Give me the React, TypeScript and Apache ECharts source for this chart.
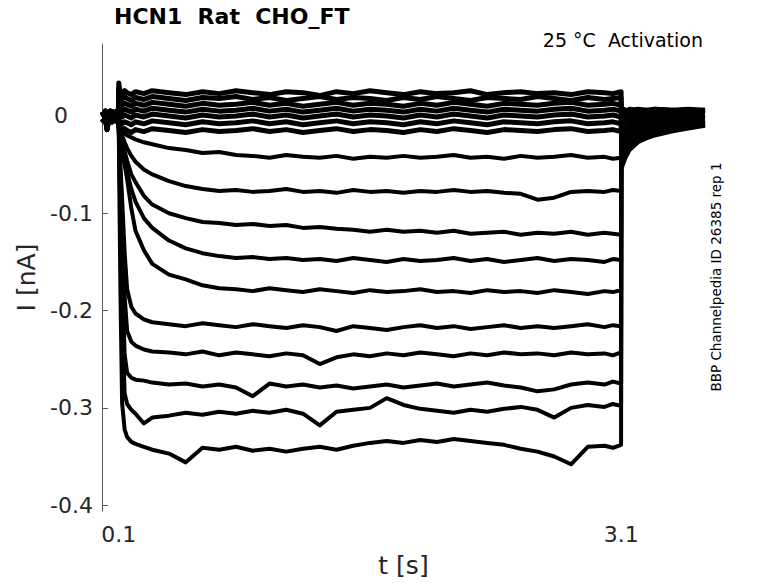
import React, { useEffect, useRef } from "react";
import * as echarts from "echarts";

// time grids (s)
const T_PRE = [0, 0.01, 0.02, 0.03, 0.04, 0.05, 0.06, 0.07, 0.08, 0.09, 0.099];
const T_STEP = [
  0.1, 0.105, 0.11, 0.12, 0.135, 0.15, 0.175, 0.2, 0.25, 0.3,
  0.4, 0.5, 0.6, 0.7, 0.8, 0.9, 1.0, 1.1, 1.2, 1.3, 1.4, 1.5, 1.6,
  1.7, 1.8, 1.9, 2.0, 2.1, 2.2, 2.3, 2.4, 2.5, 2.6, 2.7, 2.8, 2.9, 3.0,
  3.05, 3.099,
];
const T_TAIL = [3.1, 3.11, 3.125, 3.15, 3.2, 3.25, 3.3, 3.4, 3.5, 3.6];

// holding current before the step (nA)
const PRE_HI = [0.004, 0.001, 0.005, -0.008, 0.003, 0.005, 0.001, 0.004, 0.002, 0.005, 0.003];
const PRE_LO = [-0.003, -0.005, -0.002, -0.014, -0.004, -0.002, -0.006, -0.003, -0.005, -0.002, -0.004];

// currents during the step (nA)
const U1 = [0.034, 0.028, 0.025, 0.023, 0.026, 0.024, 0.022, 0.025, 0.023, 0.026,
  0.024, 0.022, 0.025, 0.023, 0.026, 0.024, 0.022, 0.025, 0.024, 0.021, 0.025, 0.023, 0.026,
  0.024, 0.022, 0.025, 0.023, 0.024, 0.026, 0.022, 0.024, 0.025, 0.023, 0.024, 0.022, 0.025, 0.024,
  0.023, 0.025];
const U2 = [0.028, 0.022, 0.019, 0.017, 0.020, 0.018, 0.016, 0.019, 0.017, 0.020,
  0.018, 0.016, 0.019, 0.018, 0.020, 0.017, 0.019, 0.016, 0.018, 0.020, 0.017, 0.019, 0.018,
  0.016, 0.019, 0.017, 0.020, 0.018, 0.016, 0.019, 0.018, 0.017, 0.020, 0.018, 0.016, 0.019, 0.017,
  0.018, 0.019];
const U3 = [0.020, 0.015, 0.013, 0.011, 0.013, 0.012, 0.010, 0.013, 0.011, 0.014,
  0.012, 0.010, 0.013, 0.011, 0.012, 0.014, 0.011, 0.013, 0.010, 0.012, 0.014, 0.011, 0.013,
  0.012, 0.010, 0.013, 0.011, 0.014, 0.012, 0.010, 0.013, 0.012, 0.011, 0.013, 0.014, 0.011, 0.012,
  0.013, 0.011];
const U4 = [0.012, 0.008, 0.007, 0.005, 0.007, 0.006, 0.004, 0.007, 0.005, 0.008,
  0.006, 0.004, 0.007, 0.005, 0.006, 0.008, 0.005, 0.007, 0.004, 0.006, 0.008, 0.005, 0.007,
  0.006, 0.004, 0.007, 0.005, 0.008, 0.006, 0.004, 0.007, 0.006, 0.005, 0.007, 0.008, 0.005, 0.006,
  0.007, 0.005];
const U5 = [0.004, 0.002, 0.001, -0.001, 0.001, 0.000, -0.002, 0.001, -0.001, 0.002,
  0.000, -0.002, 0.001, -0.001, 0.000, 0.002, -0.001, 0.001, -0.002, 0.000, 0.002, -0.001, 0.001,
  0.000, -0.002, 0.001, -0.001, 0.002, 0.000, -0.002, 0.001, 0.000, -0.001, 0.001, 0.002, -0.001, 0.000,
  0.001, -0.001];
const U6 = [-0.004, -0.005, -0.006, -0.008, -0.006, -0.007, -0.009, -0.006, -0.008, -0.005,
  -0.007, -0.009, -0.006, -0.008, -0.007, -0.005, -0.008, -0.006, -0.009, -0.007, -0.005, -0.008, -0.006,
  -0.007, -0.009, -0.006, -0.008, -0.005, -0.007, -0.009, -0.006, -0.007, -0.008, -0.006, -0.005, -0.008, -0.007,
  -0.006, -0.008];
const U7 = [-0.008, -0.010, -0.012, -0.014, -0.013, -0.015, -0.017, -0.014, -0.016, -0.013,
  -0.015, -0.017, -0.014, -0.016, -0.015, -0.013, -0.016, -0.014, -0.017, -0.015, -0.013, -0.016, -0.014,
  -0.015, -0.017, -0.014, -0.016, -0.013, -0.015, -0.017, -0.014, -0.015, -0.016, -0.014, -0.013, -0.016, -0.015,
  -0.014, -0.016];
const L1 = [-0.012, -0.013, -0.014, -0.016, -0.018, -0.020, -0.022, -0.024, -0.027, -0.029,
  -0.033, -0.035, -0.038, -0.037, -0.040, -0.041, -0.043, -0.040, -0.042, -0.043, -0.041, -0.044, -0.042,
  -0.043, -0.041, -0.043, -0.042, -0.040, -0.043, -0.042, -0.044, -0.041, -0.043, -0.042, -0.040, -0.043, -0.042,
  -0.044, -0.043];
const L2 = [-0.012, -0.014, -0.016, -0.020, -0.027, -0.033, -0.041, -0.047, -0.055, -0.060,
  -0.067, -0.072, -0.075, -0.077, -0.076, -0.078, -0.077, -0.075, -0.078, -0.077, -0.079, -0.076, -0.078,
  -0.077, -0.079, -0.077, -0.078, -0.076, -0.078, -0.077, -0.079, -0.080, -0.086, -0.084, -0.078, -0.077, -0.078,
  -0.076, -0.077];
const L3 = [-0.012, -0.015, -0.018, -0.025, -0.036, -0.046, -0.060, -0.068, -0.082, -0.091,
  -0.100, -0.105, -0.109, -0.110, -0.112, -0.111, -0.113, -0.112, -0.115, -0.114, -0.116, -0.117, -0.119,
  -0.117, -0.119, -0.118, -0.120, -0.118, -0.121, -0.120, -0.119, -0.122, -0.120, -0.121, -0.119, -0.122, -0.120,
  -0.121, -0.122];
const L4 = [-0.012, -0.016, -0.021, -0.030, -0.045, -0.058, -0.075, -0.088, -0.105, -0.115,
  -0.128, -0.136, -0.141, -0.144, -0.146, -0.145, -0.147, -0.146, -0.148, -0.147, -0.149, -0.146, -0.148,
  -0.150, -0.147, -0.149, -0.148, -0.146, -0.149, -0.147, -0.150, -0.148, -0.146, -0.149, -0.147, -0.148, -0.150,
  -0.147, -0.148];
const L5 = [-0.012, -0.018, -0.025, -0.038, -0.050, -0.065, -0.095, -0.118, -0.138, -0.152,
  -0.163, -0.168, -0.174, -0.177, -0.178, -0.180, -0.177, -0.179, -0.181, -0.178, -0.180, -0.182, -0.179,
  -0.181, -0.180, -0.178, -0.181, -0.180, -0.182, -0.179, -0.181, -0.180, -0.182, -0.179, -0.181, -0.183, -0.180,
  -0.181, -0.179];
const L6 = [-0.012, -0.030, -0.050, -0.085, -0.140, -0.178, -0.196, -0.203, -0.209, -0.212,
  -0.214, -0.216, -0.213, -0.215, -0.217, -0.214, -0.216, -0.218, -0.215, -0.217, -0.221, -0.216, -0.218,
  -0.220, -0.217, -0.215, -0.218, -0.216, -0.219, -0.217, -0.215, -0.218, -0.216, -0.218, -0.216, -0.214, -0.217,
  -0.215, -0.216];
const L7 = [-0.012, -0.040, -0.070, -0.120, -0.185, -0.221, -0.232, -0.236, -0.240, -0.242,
  -0.243, -0.245, -0.242, -0.246, -0.243, -0.245, -0.247, -0.244, -0.246, -0.255, -0.248, -0.245, -0.247,
  -0.244, -0.246, -0.243, -0.245, -0.247, -0.244, -0.246, -0.243, -0.245, -0.244, -0.246, -0.243, -0.245, -0.244,
  -0.246, -0.243];
const L8 = [-0.012, -0.050, -0.090, -0.160, -0.245, -0.264, -0.269, -0.271, -0.272, -0.274,
  -0.276, -0.275, -0.278, -0.276, -0.279, -0.288, -0.275, -0.278, -0.276, -0.279, -0.277, -0.280, -0.278,
  -0.276, -0.279, -0.277, -0.275, -0.278, -0.276, -0.274, -0.277, -0.279, -0.283, -0.281, -0.276, -0.274, -0.276,
  -0.273, -0.275];
const L9 = [-0.012, -0.060, -0.110, -0.200, -0.285, -0.296, -0.302, -0.306, -0.316, -0.310,
  -0.308, -0.305, -0.307, -0.304, -0.306, -0.303, -0.305, -0.302, -0.306, -0.318, -0.304, -0.302, -0.300,
  -0.290, -0.297, -0.301, -0.303, -0.305, -0.302, -0.304, -0.301, -0.299, -0.302, -0.310, -0.300, -0.297, -0.299,
  -0.296, -0.298];
const L10 = [-0.012, -0.100, -0.180, -0.295, -0.322, -0.330, -0.335, -0.337, -0.340, -0.343,
  -0.347, -0.356, -0.341, -0.343, -0.340, -0.344, -0.342, -0.345, -0.342, -0.340, -0.343, -0.339, -0.336,
  -0.334, -0.336, -0.333, -0.335, -0.332, -0.334, -0.336, -0.338, -0.342, -0.345, -0.350, -0.358, -0.340, -0.339,
  -0.341, -0.338];

// tail currents after the step (nA)
const TAIL_U1 = [0.006, 0.007, 0.006, 0.005, 0.007, 0.006, 0.007, 0.006, 0.007, 0.006];
const TAIL_U2 = [0.005, 0.006, 0.005, 0.007, 0.006, 0.005, 0.007, 0.006, 0.005, 0.006];
const TAIL_U3 = [0.004, 0.005, 0.004, 0.006, 0.005, 0.006, 0.004, 0.005, 0.006, 0.005];
const TAIL_U4 = [0.003, 0.004, 0.003, 0.005, 0.004, 0.003, 0.005, 0.004, 0.005, 0.003];
const TAIL_U5 = [0.001, 0.002, 0.001, 0.003, 0.002, 0.003, 0.002, 0.004, 0.003, 0.002];
const TAIL_U6 = [-0.001, 0.001, 0.000, 0.002, 0.001, 0.002, 0.003, 0.002, 0.003, 0.002];
const TAIL_U7 = [-0.004, -0.002, -0.003, -0.001, -0.002, 0.000, -0.001, 0.001, 0.000, 0.001];
const TAIL_L1 = [-0.010, -0.008, -0.007, -0.005, -0.004, -0.003, -0.002, -0.001, -0.001, 0.000];
const TAIL_L2 = [-0.016, -0.014, -0.011, -0.009, -0.006, -0.005, -0.004, -0.003, -0.002, -0.002];
const TAIL_L3 = [-0.022, -0.019, -0.016, -0.012, -0.009, -0.007, -0.006, -0.004, -0.004, -0.003];
const TAIL_L4 = [-0.028, -0.024, -0.020, -0.016, -0.012, -0.010, -0.008, -0.006, -0.005, -0.004];
const TAIL_L5 = [-0.034, -0.030, -0.025, -0.020, -0.015, -0.012, -0.010, -0.008, -0.007, -0.005];
const TAIL_L6 = [-0.040, -0.035, -0.029, -0.023, -0.018, -0.015, -0.012, -0.010, -0.008, -0.006];
const TAIL_L7 = [-0.044, -0.039, -0.033, -0.026, -0.020, -0.017, -0.014, -0.011, -0.009, -0.007];
const TAIL_L8 = [-0.048, -0.043, -0.036, -0.029, -0.022, -0.019, -0.016, -0.013, -0.011, -0.008];
const TAIL_L9 = [-0.052, -0.047, -0.040, -0.032, -0.025, -0.021, -0.018, -0.014, -0.012, -0.009];
const TAIL_L10 = [-0.055, -0.050, -0.043, -0.035, -0.027, -0.023, -0.020, -0.016, -0.013, -0.010];

// axis ticks
const X_TICKS = [0.1, 3.1];
const Y_TICKS = [-0.4, -0.3, -0.2, -0.1, 0];

const TRACES = [
  { pre: PRE_HI, step: U1, tail: TAIL_U1, upper: true },
  { pre: PRE_LO, step: U2, tail: TAIL_U2, upper: true },
  { pre: PRE_HI, step: U3, tail: TAIL_U3, upper: true },
  { pre: PRE_LO, step: U4, tail: TAIL_U4, upper: true },
  { pre: PRE_HI, step: U5, tail: TAIL_U5, upper: true },
  { pre: PRE_LO, step: U6, tail: TAIL_U6, upper: true },
  { pre: PRE_HI, step: U7, tail: TAIL_U7, upper: true },
  { pre: PRE_LO, step: L1, tail: TAIL_L1, upper: false },
  { pre: PRE_HI, step: L2, tail: TAIL_L2, upper: false },
  { pre: PRE_LO, step: L3, tail: TAIL_L3, upper: false },
  { pre: PRE_HI, step: L4, tail: TAIL_L4, upper: false },
  { pre: PRE_LO, step: L5, tail: TAIL_L5, upper: false },
  { pre: PRE_HI, step: L6, tail: TAIL_L6, upper: false },
  { pre: PRE_LO, step: L7, tail: TAIL_L7, upper: false },
  { pre: PRE_HI, step: L8, tail: TAIL_L8, upper: false },
  { pre: PRE_LO, step: L9, tail: TAIL_L9, upper: false },
  { pre: PRE_HI, step: L10, tail: TAIL_L10, upper: false },
];

const FONT = "DejaVu Sans";
const AXIS_GRAY = "#5a5a5a";
const TEXT = "#262626";

export default function App() {
  const ref = useRef<HTMLDivElement>(null);

  useEffect(() => {
    if (!ref.current) return;
    const chart = echarts.init(ref.current, null, { renderer: "svg" });

    const zip = (ts: number[], vs: number[]) => {
      const n = Math.min(ts.length, vs.length);
      const out: number[][] = [];
      for (let i = 0; i < n; i++) out.push([ts[i], vs[i]]);
      return out;
    };

    const series = TRACES.map((tr) => ({
      type: "line",
      data: [...zip(T_PRE, tr.pre), ...zip(T_STEP, tr.step), ...zip(T_TAIL, tr.tail)],
      showSymbol: false,
      symbol: "none",
      silent: true,
      lineStyle: { color: "#000000", width: tr.upper ? 5 : 4, join: "round" },
    }));

    chart.setOption({
      animation: false,
      title: {
        text: "HCN1  Rat  CHO_FT",
        left: 114,
        top: 5,
        padding: 0,
        textStyle: { fontFamily: FONT, fontWeight: "bold", fontSize: 22, color: "#000" },
      },
      grid: { left: 102, right: 73, top: 44, bottom: 71, containLabel: false },
      xAxis: {
        type: "value",
        min: 0,
        max: 3.6,
        name: "t [s]",
        nameLocation: "middle",
        nameGap: 42,
        nameTextStyle: { fontFamily: FONT, fontSize: 25, color: TEXT },
        axisLine: { show: true, lineStyle: { color: AXIS_GRAY, width: 1 } },
        axisTick: { show: true, inside: true, length: 6, customValues: X_TICKS, lineStyle: { color: AXIS_GRAY } },
        axisLabel: {
          customValues: X_TICKS,
          margin: 12,
          fontFamily: FONT,
          fontSize: 22,
          color: TEXT,
          formatter: (v: number) => v.toFixed(1),
        },
        splitLine: { show: false },
      },
      yAxis: {
        type: "value",
        min: -0.406,
        max: 0.074,
        name: "I [nA]",
        nameLocation: "middle",
        nameRotate: 90,
        nameGap: 58,
        nameTextStyle: { fontFamily: FONT, fontSize: 25, color: TEXT },
        axisLine: { show: true, lineStyle: { color: AXIS_GRAY, width: 1 } },
        axisTick: { show: true, inside: true, length: 6, customValues: Y_TICKS, lineStyle: { color: AXIS_GRAY } },
        axisLabel: {
          customValues: Y_TICKS,
          margin: 9,
          fontFamily: FONT,
          fontSize: 22,
          color: TEXT,
          formatter: (v: number) => (Math.abs(v) < 1e-9 ? "{z|0}" : String(Math.round(v * 10) / 10)),
          rich: { z: { fontFamily: FONT, fontSize: 22, color: TEXT, padding: [0, 25, 0, 0] } },
        },
        splitLine: { show: false },
      },
      graphic: [
        {
          type: "text",
          right: 75,
          top: 30,
          style: { text: "25 °C  Activation", fontFamily: FONT, fontSize: 19, fill: "#000" },
        },
        {
          type: "text",
          x: 716,
          y: 277,
          rotation: Math.PI / 2,
          style: {
            text: "BBP Channelpedia ID 26385 rep 1",
            fontFamily: FONT,
            fontSize: 13.5,
            fill: "#000",
            align: "center",
            verticalAlign: "middle",
          },
        },
      ],
      series,
    });

    return () => chart.dispose();
  }, []);

  return (
    <div
      ref={ref}
      style={{ position: "absolute", left: 0, top: 0, width: 778, height: 583, background: "#fff" }}
    />
  );
}
